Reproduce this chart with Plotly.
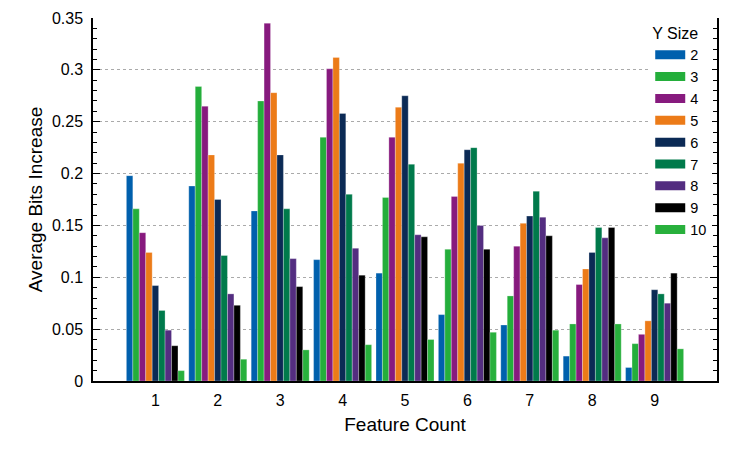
import plotly.graph_objects as go

# Feature count groups and Y size series
feature_count = [1, 2, 3, 4, 5, 6, 7, 8, 9]
y_sizes = ["2", "3", "4", "5", "6", "7", "8", "9", "10"]
y_ticks = [0, 0.05, 0.1, 0.15, 0.2, 0.25, 0.3, 0.35]
y_ticklabels = ["0", "0.05", "0.1", "0.15", "0.2", "0.25", "0.3", "0.35"]

ysize_2 = [0.198, 0.188, 0.164, 0.117, 0.104, 0.064, 0.054, 0.024, 0.013]
ysize_3 = [0.166, 0.284, 0.270, 0.235, 0.177, 0.127, 0.082, 0.055, 0.036]
ysize_4 = [0.143, 0.265, 0.345, 0.301, 0.235, 0.178, 0.130, 0.093, 0.045]
ysize_5 = [0.124, 0.218, 0.278, 0.312, 0.264, 0.210, 0.152, 0.108, 0.058]
ysize_6 = [0.092, 0.175, 0.218, 0.258, 0.275, 0.223, 0.159, 0.124, 0.088]
ysize_7 = [0.068, 0.121, 0.166, 0.180, 0.209, 0.225, 0.183, 0.148, 0.084]
ysize_8 = [0.049, 0.084, 0.118, 0.128, 0.141, 0.150, 0.158, 0.138, 0.075]
ysize_9 = [0.034, 0.073, 0.091, 0.102, 0.139, 0.127, 0.140, 0.148, 0.104]
ysize_10 = [0.010, 0.021, 0.030, 0.035, 0.040, 0.047, 0.049, 0.055, 0.031]

series = [ysize_2, ysize_3, ysize_4, ysize_5, ysize_6, ysize_7, ysize_8, ysize_9, ysize_10]
colors = ['#0060ad', '#24ae3b', '#871a7e', '#ec7b18', '#0b2a55',
          '#007a4b', '#532d80', '#000000', '#28b03c']

font = "Liberation Sans, Arial, sans-serif"

fig = go.Figure()

for name, vals, col in zip(y_sizes, series, colors):
    fig.add_trace(go.Bar(
        x=feature_count, y=vals, name=name,
        marker=dict(color=col, line=dict(color='rgba(255,255,255,0.35)', width=0.8)),
        showlegend=False
    ))
    # wide legend swatch
    fig.add_trace(go.Scatter(
        x=[None], y=[None], mode='lines', name=name,
        line=dict(color=col, width=9)
    ))

# page body adds an 8px offset, margins compensate for it
fig.update_layout(
    width=747, height=449,
    margin=dict(l=85, r=38, t=10, b=76),
    paper_bgcolor='white', plot_bgcolor='white',
    font=dict(family=font, size=16, color='black'),
    barmode='group', bargap=0.07, bargroupgap=0,
    showlegend=True,
    legend=dict(
        title=dict(text='Y Size', font=dict(size=16)),
        x=0.893, y=1.0, xanchor='left', yanchor='top',
        bgcolor='white', borderwidth=0, maxheight=1,
        font=dict(size=14.5), itemwidth=30
    )
)

fig.update_xaxes(
    range=[0, 10], tickvals=feature_count, ticks='', showgrid=False,
    ticklabelstandoff=4, automargin=False,
    showline=True, linecolor='black', linewidth=1.5, zeroline=False,
    title=dict(text='Feature Count', standoff=10)
)
fig.update_yaxes(
    range=[0, 0.35], tickmode='array', tickvals=y_ticks, ticktext=y_ticklabels,
    ticks='inside', ticklen=7, tickcolor='black', tickwidth=1,
    ticklabelstandoff=5, automargin=False,
    showline=True, linecolor='black', linewidth=1.5, mirror='allticks',
    showgrid=True, gridcolor='#aaaaaa', griddash='dot', gridwidth=1,
    zeroline=False,
    minor=dict(dtick=0.01, tick0=0, ticks='inside', ticklen=4, tickcolor='black', showgrid=False),
    title=dict(text='Average Bits Increase', standoff=4)
)

fig.write_html("out.html")
